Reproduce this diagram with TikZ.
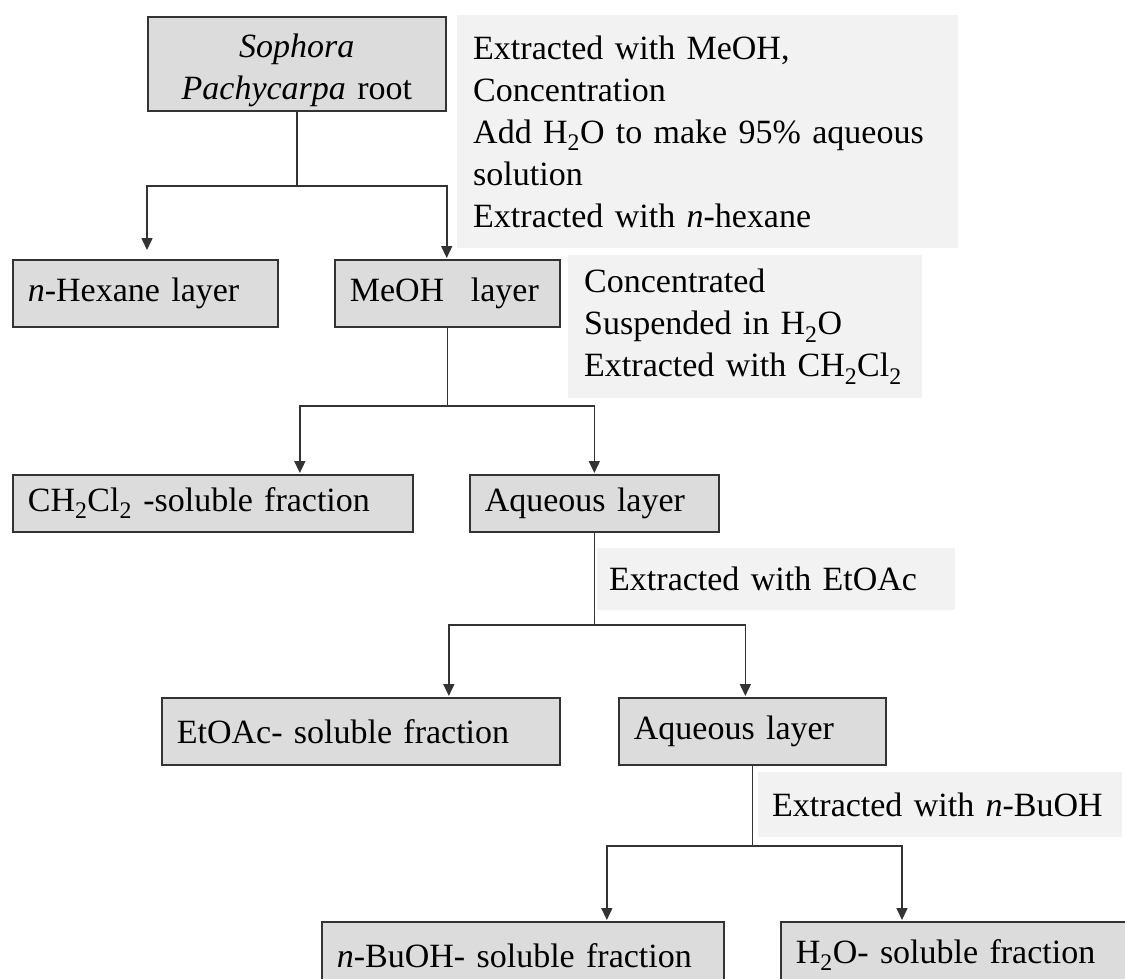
\documentclass[tikz,border=0pt]{standalone}
\usepackage{fontspec}
\setmainfont{Liberation Serif}
\usetikzlibrary{arrows.meta}
\definecolor{boxfill}{HTML}{DCDCDC}
\definecolor{notefill}{HTML}{F2F2F2}
\definecolor{edge}{HTML}{333333}
\tikzset{
  base/.style={font=\fontsize{34}{42}\selectfont, inner ysep=0pt, inner xsep=15pt, anchor=north west, align=left},
  stagebox/.style={base, draw=edge, line width=1.7pt, fill=boxfill},
  note/.style={base, fill=notefill, inner xsep=16pt},
  link/.style={line width=1.6pt, draw=edge},
  arr/.style={link, -{Triangle[length=12pt,width=11pt]}, shorten >=1pt},
}
\begin{document}
\begin{tikzpicture}[x=1pt,y=-1pt]
\clip (0,0) rectangle (1125,978);
\fill[white] (0,0) rectangle (1125,978);

% annotations
\node[note, text width=469pt, minimum height=233pt] (n1) at (457,15)
  {Extracted with MeOH,\\Concentration\\Add H\textsubscript{2}O to make 95\% aqueous\\solution\\Extracted with \textit{n}-hexane};
\node[note, text width=322pt, minimum height=143pt] (n2) at (568,255)
  {Concentrated\\Suspended in H\textsubscript{2}O\\Extracted with CH\textsubscript{2}Cl\textsubscript{2}};
\node[note, inner xsep=12pt, text width=334pt, minimum height=62pt] (n3) at (597,548)
  {Extracted with EtOAc};
\node[note, inner xsep=14pt, text width=336pt, minimum height=65pt] (n4) at (758,772)
  {Extracted with \textit{n}-BuOH};

% stage boxes
\node[stagebox, align=center, text width=268pt, minimum height=94pt] (top) at (147,16)
  {\rule{0pt}{1.1em}\textit{Sophora}\\\textit{Pachycarpa} root};
\node[stagebox, text width=235pt, minimum height=67pt] (hex) at (12,259)
  {\textit{n}-Hexane layer};
\node[stagebox, text width=195pt, minimum height=67pt] (meoh) at (334,259)
  {MeOH\hspace{0.45em} layer};
\node[stagebox, text width=370pt, minimum height=57pt] (ch2) at (12,474)
  {CH\textsubscript{2}Cl\textsubscript{2} -soluble fraction};
\node[stagebox, text width=219pt, minimum height=57pt] (aq1) at (469,474)
  {Aqueous layer};
\node[stagebox, text width=368pt, minimum height=67pt] (etoac) at (161,697)
  {EtOAc- soluble fraction};
\node[stagebox, text width=237pt, minimum height=67pt] (aq2) at (618,697)
  {Aqueous layer};
\node[stagebox, text width=372pt, minimum height=67pt] (buoh) at (321,921)
  {\textit{n}-BuOH- soluble fraction};
\node[stagebox, text width=330pt, minimum height=67pt] (h2o) at (780,921)
  {H\textsubscript{2}O- soluble fraction};

% connectors: split 1
\path (top.south) ++(0,74) coordinate (j1);
\draw[link] (top.south) -- (j1);
\draw[arr, shorten >=9pt] (j1) -| (top.west |- hex.north);
\draw[arr] (j1) -| (top.east |- meoh.north);

% split 2
\path (meoh.south) ++(0,78) coordinate (j2);
\draw[link] (meoh.south) -- (j2);
\draw[arr] (j2) -| ([xshift=87pt]ch2.north);
\draw[arr] (j2) -| (aq1.north);

% split 3
\path (aq1.south) ++(0,92) coordinate (j3);
\draw[link] (aq1.south) -- (j3);
\draw[arr] (j3) -| ([xshift=88pt]etoac.north);
\draw[arr] (j3) -| ([xshift=-7pt]aq2.north);

% split 4
\path (aq2.south) ++(0,80) coordinate (j4);
\draw[link] (aq2.south) -- (j4);
\draw[arr] (j4) -| ([xshift=84pt]buoh.north);
\draw[arr] (j4) -| ([xshift=122pt]h2o.north west);
\end{tikzpicture}
\end{document}
